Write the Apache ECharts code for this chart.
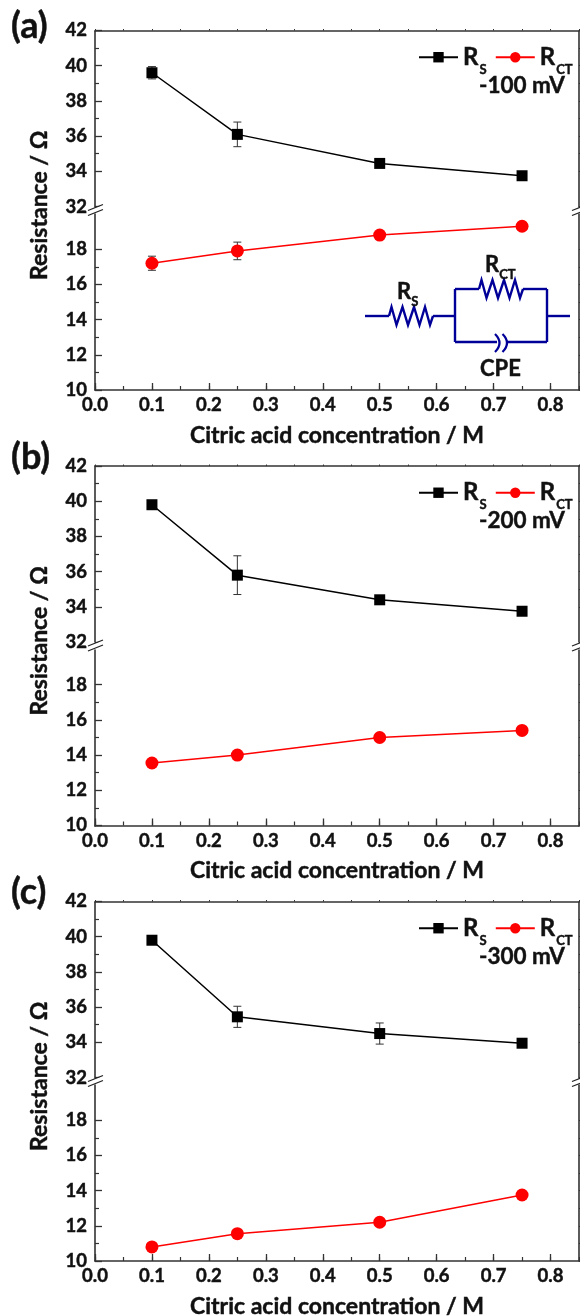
<!DOCTYPE html>
<html><head><meta charset="utf-8">
<style>html,body{margin:0;padding:0;background:#fff}#c{width:580px;height:1316px}</style>
<script src="https://cdn.jsdelivr.net/npm/echarts@6/dist/echarts.min.js"></script>
</head><body><div id="c"></div>
<script>
const concentration = [0.1, 0.25, 0.5, 0.75];
const rsA = [39.6, 36.1, 34.45, 33.75];
const rsErrA = [0.35, 0.7, 0, 0];
const rctA = [17.2, 17.9, 18.8, 19.3];
const rctErrA = [0.4, 0.5, 0, 0];
const rsB = [39.8, 35.8, 34.4, 33.75];
const rsErrB = [0, 1.1, 0, 0];
const rctB = [13.55, 14.0, 15.0, 15.4];
const rctErrB = [0, 0, 0, 0];
const rsC = [39.8, 35.45, 34.5, 33.95];
const rsErrC = [0, 0.6, 0.6, 0];
const rctC = [10.8, 11.55, 12.2, 13.75];
const rctErrC = [0, 0, 0, 0];
const yMajorTicks = [10, 12, 14, 16, 18, 32, 34, 36, 38, 40, 42];
const panelLabels = ['(a)', '(b)', '(c)'];
const potentials = ['-100 mV', '-200 mV', '-300 mV'];
const panels = [
  {top: 30.5, labelY: 26, rs: rsA, rsErr: rsErrA, rct: rctA, rctErr: rctErrA},
  {top: 466, labelY: 457, rs: rsB, rsErr: rsErrB, rct: rctB, rctErr: rctErrB},
  {top: 901.5, labelY: 892, rs: rsC, rsErr: rsErrC, rct: rctC, rctErr: rctErrC}
];
const FONT = 'Lato';
const INK = '#111';
const AXIS = '#333';
const PH = 359.5;
const HEAVY = {textBorderColor: INK, textBorderWidth: 0.45};

const grid = [], xAxis = [], yAxis = [], series = [], legend = [], graphic = [];
const lineCommon = {onZero: false, lineStyle: {color: AXIS, width: 1.6}};

panels.forEach((p, i) => {
  grid.push({left: 95, width: 484, top: p.top, height: PH, outerBoundsMode: 'none'});
  const xBase = {gridIndex: i, type: 'value', min: 0, max: 0.85, splitLine: {show: false}};
  xAxis.push(
    {...xBase, position: 'bottom', interval: 0.1,
      name: 'Citric acid concentration / M', nameLocation: 'middle', nameGap: 34,
      nameTextStyle: {fontFamily: FONT, fontWeight: 'bold', fontSize: 23, color: INK, ...HEAVY},
      axisLine: lineCommon,
      axisTick: {inside: true, length: 7, lineStyle: {color: AXIS, width: 1.3}},
      minorTick: {show: false},
      axisLabel: {fontFamily: FONT, fontWeight: 'bold', fontSize: 18.5, color: INK, margin: 6, ...HEAVY,
        showMaxLabel: false, formatter: v => v > 0.8 ? '' : v.toFixed(1)}},
    {...xBase, position: 'bottom', interval: 0.05,
      axisLine: {show: false},
      axisTick: {inside: true, length: 4, lineStyle: {color: AXIS, width: 1.2}},
      axisLabel: {show: false}},
    {...xBase, position: 'top', interval: 0.05,
      axisLine: lineCommon,
      axisTick: {inside: false, length: 1.5, lineStyle: {color: AXIS, width: 1}},
      axisLabel: {show: false}}
  );
  const yBase = {gridIndex: i, type: 'value', min: 10, max: 42, interval: 2,
    splitLine: {show: false}, minorSplitLine: {show: false},
    breaks: [{start: 20, end: 32, gap: 0.42}],
    breakArea: {show: false}, breakLabelLayout: {moveOverlap: false}};
  yAxis.push(
    {...yBase, position: 'left',
      name: 'Resistance / Ω', nameLocation: 'middle', nameGap: 44,
      nameTextStyle: {fontFamily: FONT, fontWeight: 'bold', fontSize: 23, color: INK, padding: [0, 0, 0, 10], ...HEAVY},
      axisLine: lineCommon,
      axisTick: {inside: true, length: 7, customValues: yMajorTicks, lineStyle: {color: AXIS, width: 1.3}},
      minorTick: {show: true, splitNumber: 2, length: 4, lineStyle: {color: AXIS, width: 1.2}},
      axisLabel: {fontFamily: FONT, fontWeight: 'bold', fontSize: 18.5, color: INK, margin: 8, ...HEAVY,
        formatter: v => v === 20 ? '' : String(v)}},
    {...yBase, position: 'right',
      axisLine: lineCommon,
      axisTick: {inside: false, length: 3, customValues: yMajorTicks, lineStyle: {color: AXIS, width: 1}},
      minorTick: {show: true, splitNumber: 2, length: 3, lineStyle: {color: AXIS, width: 1}},
      axisLabel: {show: false}}
  );
  const xi = i * 3, yi = i * 2;
  const errData = (vals, errs) => concentration
    .map((c, k) => [c, vals[k] - errs[k], vals[k] + errs[k]])
    .filter((d, k) => errs[k] > 0);
  const errSeries = (vals, errs, color) => ({
    type: 'custom', xAxisIndex: xi, yAxisIndex: yi, silent: true, z: 1,
    data: errData(vals, errs), encode: {x: 0, y: [1, 2]},
    renderItem: (params, api) => {
      const lo = api.coord([api.value(0), api.value(1)]);
      const hi = api.coord([api.value(0), api.value(2)]);
      const st = {stroke: color, lineWidth: 1, fill: null};
      const cap = 4;
      return {type: 'group', children: [
        {type: 'line', shape: {x1: lo[0], y1: lo[1], x2: hi[0], y2: hi[1]}, style: st},
        {type: 'line', shape: {x1: lo[0] - cap, y1: lo[1], x2: lo[0] + cap, y2: lo[1]}, style: st},
        {type: 'line', shape: {x1: hi[0] - cap, y1: hi[1], x2: hi[0] + cap, y2: hi[1]}, style: st}
      ]};
    }
  });
  series.push(
    errSeries(p.rs, p.rsErr, '#333'),
    errSeries(p.rct, p.rctErr, '#333'),
    {name: 'RS', type: 'line', xAxisIndex: xi, yAxisIndex: yi, z: 3, animation: false,
      data: concentration.map((c, k) => [c, p.rs[k]]),
      symbol: 'rect', symbolSize: 11,
      lineStyle: {color: '#000', width: 1.5}, itemStyle: {color: '#000'}},
    {name: 'RCT', type: 'line', xAxisIndex: xi, yAxisIndex: yi, z: 3, animation: false,
      data: concentration.map((c, k) => [c, p.rct[k]]),
      symbol: 'circle', symbolSize: 13,
      lineStyle: {color: '#f00', width: 1.5}, itemStyle: {color: '#f00'}}
  );
  legend.push({
    left: 418, top: p.top + 14.5, orient: 'horizontal', padding: 0, itemGap: 8,
    itemWidth: 39, itemHeight: 13, selectedMode: false,
    data: ['RS', 'RCT'],
    formatter: n => '{m|R}{s|' + n.slice(1) + '}',
    textStyle: {rich: {
      m: {fontFamily: FONT, fontWeight: 'bold', fontSize: 24, color: INK, lineHeight: 26, verticalAlign: 'middle', ...HEAVY},
      s: {fontFamily: FONT, fontWeight: 'bold', fontSize: 13, color: INK, verticalAlign: 'bottom', lineHeight: 38, padding: [0, 0, 0, 1], ...HEAVY}
    }}
  });
  graphic.push({type: 'text', x: 11, y: p.labelY, z: 20,
    style: {text: panelLabels[i], fontFamily: FONT, fontWeight: 'bold', fontSize: 36, fill: INK, verticalAlign: 'middle', stroke: INK, lineWidth: 0.45}});
  graphic.push({type: 'text', x: 565, y: p.top + 55, z: 20,
    style: {text: potentials[i], fontFamily: FONT, fontWeight: 'bold', fontSize: 22.5, fill: INK,
      align: 'right', verticalAlign: 'middle', stroke: INK, lineWidth: 0.45}});
  // axis-break marks on both vertical axes
  [95, 579].forEach(ax => {
    const y = p.top + 179.5;
    graphic.push({type: 'polygon', z: 15, shape: {points: [[ax - 7, y + 0.7], [ax + 8, y - 5.3], [ax + 8, y - 0.7], [ax - 7, y + 5.3]]},
      style: {fill: '#fff', stroke: null}});
    [[0.5], [5.5]].forEach(([d]) => graphic.push({type: 'line', z: 16,
      shape: {x1: ax - 7, y1: y + d, x2: ax + 8, y2: y + d - 6},
      style: {stroke: '#222', lineWidth: 1.2}}));
  });
});

// equivalent circuit inset in panel (a)
const NAVY = '#000099';
const wire = pts => ({type: 'polyline', z: 10, shape: {points: pts},
  style: {stroke: NAVY, lineWidth: 2.4, fill: null, lineJoin: 'miter'}});
const zig = (x0, y) => {
  const dx = [0, 2.5, 7.5, 13.5, 19, 25, 30.5, 36, 41, 44];
  const dy = [0, -9, 9, -9, 9, -9, 9, -9, 9, 0];
  return dx.map((d, k) => [x0 + d, y + dy[k]]);
};
const arc = x => ({type: 'bezierCurve', z: 10,
  shape: {x1: x, y1: 334, x2: x, y2: 352, cpx1: x + 6, cpy1: 340, cpx2: x + 6, cpy2: 346},
  style: {stroke: NAVY, lineWidth: 2.2, fill: null}});
graphic.push(
  wire([[365, 316], [389, 316]]), wire(zig(389, 316)), wire([[433, 316], [455, 316]]),
  wire([[455, 289], [455, 342]]),
  wire([[455, 289], [479, 289]]), wire(zig(479, 289)), wire([[523, 289], [547, 289]]),
  wire([[547, 289], [547, 342]]), wire([[547, 316], [570, 316]]),
  wire([[455, 342], [497, 342]]), wire([[507, 342], [547, 342]]),
  arc(495), arc(502.5)
);
const rm = {fontFamily: FONT, fontWeight: 'bold', fontSize: 22, fill: INK, lineHeight: 24, verticalAlign: 'middle', stroke: INK, lineWidth: 0.45};
const rs = {fontFamily: FONT, fontWeight: 'bold', fontSize: 13, fill: INK, lineHeight: 32, verticalAlign: 'bottom', stroke: INK, lineWidth: 0.45};
const circuitText = (rich, x, y) => ({type: 'text', x, y, z: 20,
  style: {text: rich, fontFamily: FONT, fontWeight: 'bold', fontSize: 22, fill: INK, verticalAlign: 'middle', rich: {m: rm, s: rs}}});
graphic.push(
  circuitText('{m|R}{s|S}', 397, 292),
  circuitText('{m|R}{s|CT}', 485, 265),
  circuitText('{m|CPE}', 480, 369)
);

const chart = echarts.init(document.getElementById('c'), null, {renderer: 'canvas'});
chart.setOption({animation: false, backgroundColor: '#fff', grid, xAxis, yAxis, series, legend, graphic});
</script></body></html>
